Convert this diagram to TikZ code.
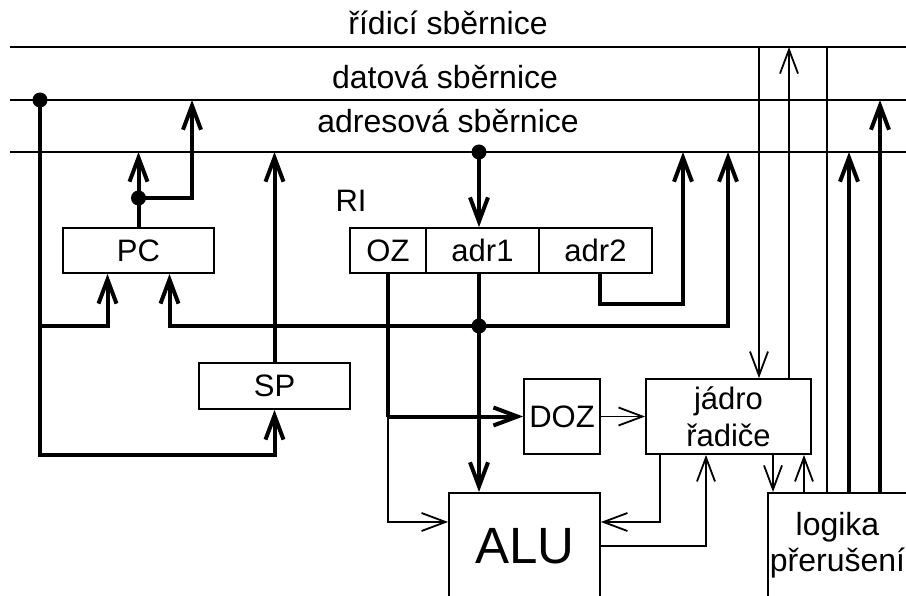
\documentclass[tikz,border=0pt]{standalone}
\usepackage{fontspec}
\setmainfont{Liberation Sans}
\usetikzlibrary{arrows.meta}
\newcommand{\myfs}{\fontsize{31}{37}\selectfont}
\newcommand{\mybigfs}{\fontsize{32}{35.5}\selectfont}
\begin{document}
\begin{tikzpicture}[x=1pt,y=-1pt,
  bus/.style={line width=2.4pt},
  thk/.style={line width=4pt},
  thn/.style={line width=1.8pt},
  arr/.style={-{Straight Barb[length=24pt,width=18pt]}},
  box/.style={draw,line width=1.8pt,inner sep=0pt,font=\myfs},
  lbl/.style={inner sep=0pt,font=\myfs},
  buslbl/.style={inner sep=0pt,font=\mybigfs,anchor=base},
  dotn/.style={circle,fill,inner sep=0pt,minimum size=15pt},
]
\useasboundingbox (0,0) rectangle (906,596);
\clip (0,0) rectangle (906,596);

% buses
\coordinate (rL) at (10,47);   \coordinate (rR) at (906,47);
\coordinate (dL) at (10,100);  \coordinate (dR) at (906,100);
\coordinate (aL) at (10,152);  \coordinate (aR) at (906,152);
\draw[bus] (rL) -- (rR);
\draw[bus] (dL) -- (dR);
\draw[bus] (aL) -- (aR);
\node[buslbl] (rlab) at (448,35) {řídicí sběrnice};
\node[buslbl] (dlab) at (445,89) {datová sběrnice};
\node[buslbl] (alab) at (448,133) {adresová sběrnice};

% boxes
\node[box,minimum width=151pt,minimum height=45pt] (pc) at (138.5,250.5) {PC};
\node[box,minimum width=151pt,minimum height=46pt] (sp) at (274.5,386) {SP};
\node[box,minimum width=76pt,minimum height=45pt] (oz) at (388,250.5) {OZ};
\node[box,minimum width=113pt,minimum height=45pt] (adr1) at (482.5,250.5) {adr1};
\node[box,minimum width=113pt,minimum height=45pt] (adr2) at (595.5,250.5) {adr2};
\node[lbl] (ri) at (351,201) {RI};
\node[box,minimum width=76pt,minimum height=75pt] (doz) at (562,416.5) {DOZ};
\node[box,minimum width=165pt,minimum height=75pt,align=center] (jad) at (728.5,416.5) {jádro\\řadiče};
\node[box,minimum width=151pt,minimum height=160pt,anchor=north] (alu) at (524.5,492) {};
\node[lbl,font=\fontsize{51}{60}\selectfont] (alut) at (525,546) {ALU};
\node[box,minimum width=180pt,minimum height=160pt,anchor=north west] (log) at (767,492) {};
\node[lbl,font=\mybigfs,align=center] (logt) at (837.5,545) {logika\\přerušení};

% tap points
\coordinate (d1) at (40,100);
\coordinate (d2) at (479,152);
\coordinate (d3) at (479,326);
\coordinate (d4) at (138.5,198);
\coordinate (j1) at (40,326);
\coordinate (spin) at (274.5,455);
\coordinate (t728) at (728,152);
\coordinate (t683) at (683,152);
\coordinate (t192) at (192,100);
\coordinate (c417) at (388,416.5);

% thick connectors
\draw[thk,arr] (d1) |- (spin) -- (sp.south);
\draw[thk,arr] (j1) -| ([xshift=-31pt]pc.south);
\draw[thk,arr] (d3) -| ([xshift=31pt]pc.south);
\draw[thk,arr] (d3) -| (t728);
\draw[thk,arr] (d2) -- (d2 |- adr1.north);
\draw[thk,arr] (d2 |- adr1.south) -- (d2 |- alu.north);
\draw[thk,arr] ([xshift=4.5pt]adr2.south) -- ++(0,30) -| (t683);
\draw[thk,arr] (sp.north) -- (sp.north |- d2);
\draw[thk] (pc.north) -- (d4);
\draw[thk,arr] (d4) -- (d4 |- d2);
\draw[thk,arr] (d4) -| (t192);
\draw[thk] (oz.south) -- (c417);
\draw[thk,arr] (c417) -- (doz.west);

% thin connectors
\draw[thn,arr] (c417) |- ([yshift=-30pt]alu.north west);
\draw[thn,arr] (doz.east) -- (jad.west);
\draw[thn,arr] ([xshift=-68.5pt]jad.south) |- ([yshift=-30pt]alu.north east);
\draw[thn,arr] ([yshift=-54pt]alu.north east) -| ([xshift=-22.5pt]jad.south);
\draw[thn,arr] ([xshift=44.5pt]jad.south) -- ([xshift=6pt]log.north west);
\draw[thn,arr] ([xshift=37pt]log.north west) -- ([xshift=75.5pt]jad.south);

\coordinate (k1) at ([xshift=30.5pt]jad.north);
\coordinate (k2) at ([xshift=60.5pt]jad.north);
\coordinate (k3) at ([xshift=60pt]log.north west);
\coordinate (k4) at ([xshift=82pt]log.north west);
\coordinate (k5) at ([xshift=113pt]log.north west);
\draw[thn,arr] (k1 |- rL) -- (k1);
\draw[thn,arr] (k2) -- (k2 |- rL);
\draw[thn] (k3 |- rL) -- (k3);
\draw[thk,arr] (k4) -- (k4 |- d2);
\draw[thk,arr] (k5) -- (k5 |- d1);

% dots
\node[dotn] (dot1) at (d1) {};
\node[dotn] (dot2) at (d2) {};
\node[dotn] (dot3) at (d3) {};
\node[dotn] (dot4) at (d4) {};
\end{tikzpicture}
\end{document}
